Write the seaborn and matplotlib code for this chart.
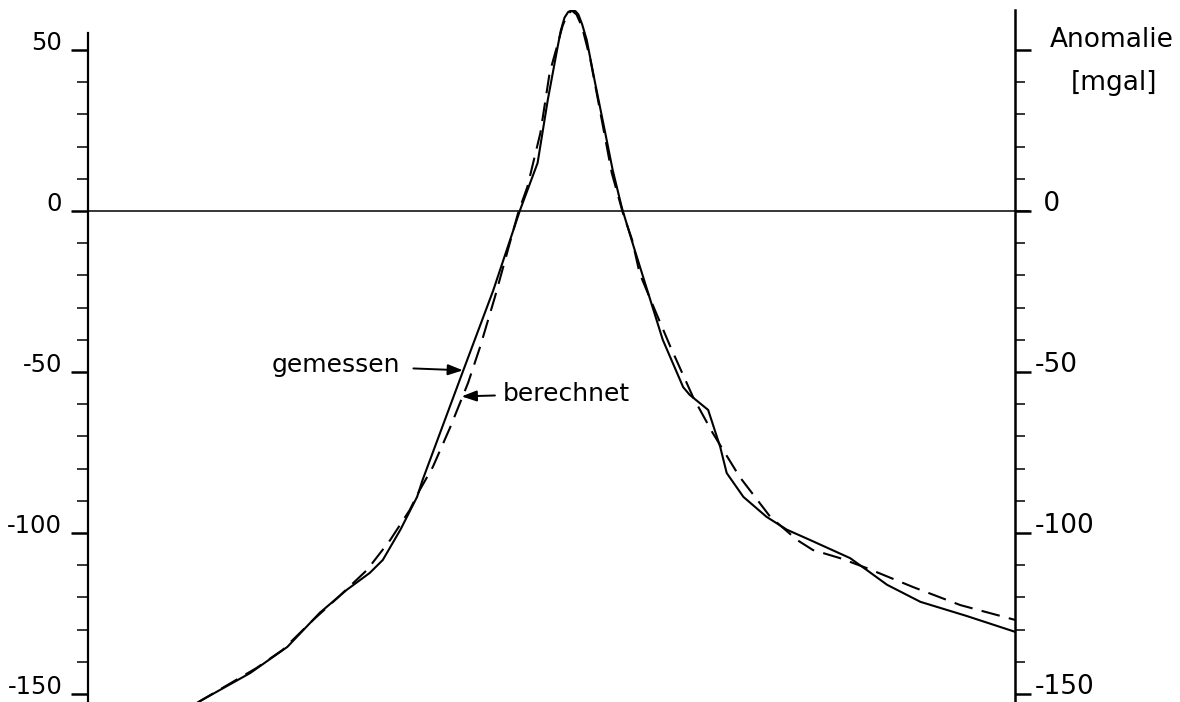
import numpy as np
import pandas as pd
import matplotlib
matplotlib.use("Agg")
import matplotlib.pyplot as plt
from matplotlib.ticker import FixedLocator
import seaborn as sns

# ── DATA (profile distance, arbitrary units 0..100; anomaly in mgal) ─────────
X_MEAS = [10.0, 12.1, 17.5, 21.5, 25.0, 27.9, 30.4, 31.8, 33.7, 35.5, 36.1,
          40.5, 43.7, 46.6, 48.5, 49.6, 50.6, 51.0, 51.4, 51.8, 52.2, 52.6,
          52.9, 53.3, 53.8, 54.7, 55.8, 56.6, 57.6, 58.8, 62.0, 64.2, 64.9,
          66.9, 68.2, 68.9, 70.7, 73.2, 75.4, 77.9, 82.2, 84.0, 86.2, 89.8,
          94.8, 100.0]
Y_MEAS = [-156.0, -152.2, -143.5, -135.4, -124.8, -117.7, -112.4, -108.4,
          -99.0, -88.8, -83.5, -49.4, -24.8, 0.2, 14.9, 34.5, 50.0, 56.0,
          60.0, 61.8, 62.3, 62.0, 61.0, 58.0, 53.1, 39.8, 24.2, 12.7, 0.9,
          -10.5, -40.0, -54.7, -57.1, -61.8, -73.3, -81.4, -88.8, -95.0,
          -99.0, -102.2, -107.8, -111.5, -116.1, -121.4, -125.8, -130.7]

X_CALC = [10.0, 12.1, 18.2, 21.0, 24.3, 26.9, 30.1, 32.6, 34.7, 35.8, 37.2,
          39.1, 41.0, 42.3, 43.9, 46.4, 47.4, 48.8, 49.8, 50.7, 51.2, 51.7,
          52.2, 52.7, 53.3, 54.2, 56.5, 57.7, 58.7, 59.5, 60.6, 62.8, 65.3,
          67.4, 70.3, 73.6, 76.5, 78.2, 81.1, 84.0, 89.0, 94.1, 100.0]
Y_CALC = [-156.0, -152.2, -141.9, -136.3, -127.0, -120.2, -111.5, -102.2,
          -92.9, -86.6, -79.5, -67.0, -53.4, -42.2, -26.7, -0.6, 7.5, 24.2,
          42.9, 52.2, 57.5, 61.0, 62.2, 61.0, 57.1, 46.9, 11.8, -0.6, -9.0,
          -19.3, -27.0, -42.0, -58.0, -69.0, -82.6, -95.0, -102.2, -105.3,
          -107.8, -110.9, -116.8, -122.4, -127.0]

Y_MAJOR = [-150, -100, -50, 0, 50]
Y_MINOR = [-140, -130, -120, -110, -90, -80, -70, -60,
           -40, -30, -20, -10, 10, 20, 30, 40]
LEFT_LABELS = ["-150", "-100", "-50", "0", "50"]
RIGHT_LABELS = ["-150", "-100", "-50", " 0", ""]

INK = "black"

sns.set_theme(style="white")
plt.rcParams.update({
    "font.family": ["DejaVu Sans"],
    "axes.unicode_minus": False,
    "axes.edgecolor": INK,
    "axes.linewidth": 1.6,
})

fig = plt.figure(figsize=(11.8, 7.02), dpi=100, facecolor="white")
ax = fig.add_axes([88 / 1180, 0.0, (1015 - 88) / 1180, 692 / 702])
ax.set_xlim(0, 100)
ax.set_ylim(-152.5, 62.4)

meas = pd.DataFrame({"x": X_MEAS, "y": Y_MEAS})
calc = pd.DataFrame({"x": X_CALC, "y": Y_CALC})
sns.lineplot(data=meas, x="x", y="y", ax=ax, color=INK, lw=1.5, sort=False)
sns.lineplot(data=calc, x="x", y="y", ax=ax, color=INK, lw=1.5, sort=False,
             linestyle=(0, (9, 4.5)))

ax.axhline(0, color=INK, lw=1.1, xmax=1.015, clip_on=False)

# left axis
for s in ["top", "bottom", "right"]:
    ax.spines[s].set_visible(False)
ax.spines["left"].set_bounds(-153, 55.4)
ax.set_xticks([])
ax.set_xlabel("")
ax.set_ylabel("")
ax.set_yticks(Y_MAJOR)
ax.yaxis.set_minor_locator(FixedLocator(Y_MINOR))
ax.set_yticklabels(LEFT_LABELS, fontsize=17.5, va="baseline")
ax.tick_params(axis="y", which="major", direction="out", length=12,
               width=1.8, pad=6.5, colors=INK, left=True)
ax.tick_params(axis="y", which="minor", direction="out", length=8,
               width=1.3, left=True)

# right axis
ax2 = ax.twinx()
ax2.set_ylim(ax.get_ylim())
for s in ["top", "bottom", "left"]:
    ax2.spines[s].set_visible(False)
ax2.spines["right"].set_linewidth(1.8)
ax2.set_yticks(Y_MAJOR)
ax2.yaxis.set_minor_locator(FixedLocator(Y_MINOR))
ax2.set_yticklabels(RIGHT_LABELS, fontsize=19, va="baseline")
ax2.tick_params(axis="y", which="major", direction="out", length=11.5,
                width=1.8, pad=3, colors=INK, right=True)
ax2.tick_params(axis="y", which="minor", direction="out", length=7,
                width=1.3, right=True)

ax2.annotate("Anomalie", xy=(1, 50), xycoords=("axes fraction", "data"),
             xytext=(69.5, 2), textcoords="offset points",
             ha="center", va="baseline", fontsize=19, color=INK,
             annotation_clip=False)
ax2.annotate("[mgal]", xy=(1, 50), xycoords=("axes fraction", "data"),
             xytext=(71, -29), textcoords="offset points",
             ha="center", va="baseline", fontsize=19, color=INK,
             annotation_clip=False)

# curve labels
arrow_g = dict(arrowstyle="-|>,head_length=0.5,head_width=0.18", color=INK,
               lw=1.4, shrinkA=7, shrinkB=0)
arrow_b = dict(arrowstyle="-|>,head_length=0.5,head_width=0.18", color=INK,
               lw=1.4, shrinkA=3, shrinkB=0)
ax.annotate("gemessen", xy=(40.45, -49.5), xytext=(33.7, -48.0),
            ha="right", va="center", fontsize=18, color=INK, arrowprops=arrow_g)
ax.annotate("berechnet", xy=(40.3, -57.6), xytext=(44.7, -56.7),
            ha="left", va="center", fontsize=18, color=INK, arrowprops=arrow_b)

fig.savefig("out.png", dpi=100, facecolor="white")
